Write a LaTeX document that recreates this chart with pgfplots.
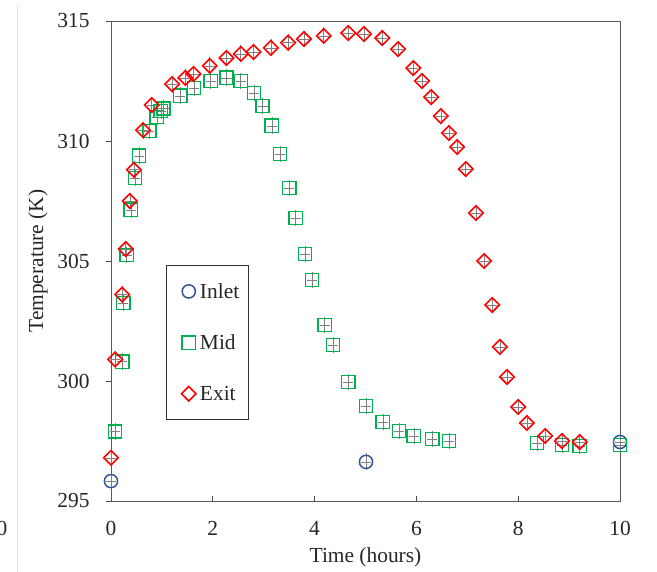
\documentclass[border=0pt]{standalone}
\usepackage{pgfplots}
\pgfplotsset{compat=1.18}
\usepackage{fontspec}
\setmainfont{Liberation Serif}
\definecolor{cred}{HTML}{FF0000}
\definecolor{cgreen}{HTML}{00B050}
\definecolor{cblue}{HTML}{2F5597}
\newcommand\fsz{\fontsize{21.5}{26}\selectfont}
\begin{document}
\begin{tikzpicture}
\useasboundingbox (-111bp,-71bp) rectangle (546bp,501bp);
\draw[black!12, line width=1bp] (-93bp,-71bp) -- (-93bp,496bp);
\node[font=\fsz, text=black!85] at (-109bp,-27bp) {0};
\begin{axis}[
  anchor=south west, at={(0,0)},
  scale only axis, width=509bp, height=480bp,
  xmin=0, xmax=10, ymin=295, ymax=315,
  xtick={0,2,...,10}, ytick={295,300,...,315},
  tick pos=left,
  xtick align=inside, ytick align=outside,
  major tick length=5bp,
  tick style={black!70, line width=0.8bp},
  axis line style={black!65, line width=0.9bp},
  clip=false,
  /pgf/number format/assume math mode=true,
  tick label style={font=\fsz, text=black!85},
  yticklabel style={xshift=-13bp},
  xticklabel style={yshift=-17bp},
  label style={font=\fsz, text=black!85},
  xlabel={Time (hours)},
  ylabel={Temperature (K)},
  xlabel style={at={(axis description cs:0.5,-0.1166)}, anchor=center},
  ylabel style={at={(axis description cs:-0.1434,0.5)}, anchor=center},
  legend style={at={(0.108,0.492)}, anchor=north west, draw=black!80, line width=0.8bp,
    font=\fsz, text=black!85, row sep=33bp, column sep=3bp, inner ysep=17bp, inner xsep=8bp,
    nodes={inner sep=1bp}},
  legend image code/.code={\path (0bp,0bp); \draw[#1] plot coordinates {(14bp,0bp)};},
  legend cell align=left,
]
\addplot[only marks, mark=o, mark size=6.6bp, mark options={draw=cblue, line width=1.5bp},
  error bars/.cd, x dir=both, x fixed=0.1, y dir=both, y fixed=0.35,
  error mark=none, error bar style={gray, line width=0.6bp}]
coordinates {(0,295.83)(5.01,296.63)(10,297.46)};
\addlegendentry{Inlet}
\addplot[only marks, mark=square, mark size=6.6bp, mark options={draw=cgreen, line width=1.6bp},
  error bars/.cd, x dir=both, x fixed=0.1, y dir=both, y fixed=0.35,
  error mark=none, error bar style={gray, line width=0.6bp}]
coordinates {(0.08,297.9)(0.22,300.8)(0.24,303.25)(0.31,305.25)(0.39,307.13)(0.47,308.46)(0.55,309.38)(0.75,310.42)(0.9,311.0)(0.98,311.25)(1.03,311.35)(1.36,311.88)(1.63,312.21)(1.96,312.5)(2.27,312.63)(2.55,312.5)(2.81,312.0)(2.98,311.46)(3.16,310.63)(3.32,309.46)(3.5,308.04)(3.63,306.79)(3.81,305.29)(3.95,304.21)(4.2,302.33)(4.36,301.5)(4.66,299.96)(5.01,298.96)(5.34,298.29)(5.66,297.92)(5.95,297.71)(6.31,297.58)(6.64,297.5)(8.37,297.42)(8.86,297.33)(9.21,297.29)(10.0,297.33)};
\addlegendentry{Mid}
\addplot[only marks, mark=square, mark size=5.1bp, mark options={draw=cred, line width=1.6bp, rotate=45},
  error bars/.cd, x dir=both, x fixed=0.1, y dir=both, y fixed=0.35,
  error mark=none, error bar style={gray, line width=0.6bp}]
coordinates {(0,296.8)(0.08,300.9)(0.22,303.6)(0.29,305.5)(0.37,307.5)(0.45,308.8)(0.63,310.45)(0.8,311.5)(1.2,312.37)(1.46,312.63)(1.62,312.79)(1.94,313.13)(2.27,313.46)(2.55,313.63)(2.8,313.71)(3.14,313.88)(3.48,314.1)(3.79,314.25)(4.18,314.38)(4.66,314.5)(4.97,314.46)(5.33,314.29)(5.64,313.83)(5.94,313.04)(6.11,312.5)(6.29,311.83)(6.48,311.04)(6.64,310.33)(6.8,309.75)(6.97,308.83)(7.17,307.0)(7.33,305.0)(7.49,303.17)(7.64,301.42)(7.78,300.17)(8.0,298.92)(8.17,298.25)(8.53,297.71)(8.86,297.5)(9.21,297.46)};
\addlegendentry{Exit}
\end{axis}
\end{tikzpicture}
\end{document}
